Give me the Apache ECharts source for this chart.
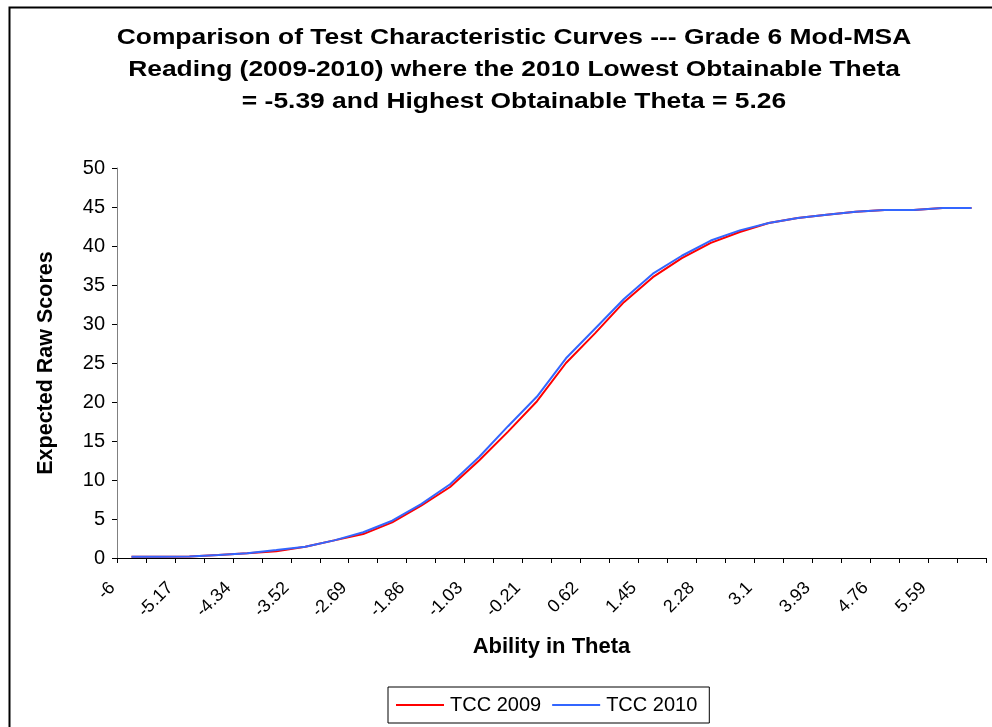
<!DOCTYPE html>
<html>
<head>
<meta charset="utf-8">
<script src="https://cdn.jsdelivr.net/npm/echarts@6/dist/echarts.min.js"></script>
<style>
html,body{margin:0;padding:0;background:#fff;}
#chart{width:992px;height:727px;}
</style>
</head>
<body>
<div id="chart"></div>
<script>
const thetaLabels = ["-6","-5.59","-5.17","-4.76","-4.34","-3.93","-3.52","-3.1","-2.69","-2.28","-1.86","-1.45","-1.03","-0.62","-0.21","0.21","0.62","1.03","1.45","1.86","2.28","2.69","3.1","3.52","3.93","4.34","4.76","5.17","5.59","6"];
const tcc2009 = [0.15,0.15,0.2,0.38,0.6,0.85,1.45,2.26,3.07,4.57,6.7,9.1,12.5,16.2,20.1,25.0,28.8,32.8,36.0,38.45,40.4,41.8,42.95,43.6,44.0,44.4,44.6,44.6,44.87,44.87];
const tcc2010 = [0.15,0.15,0.2,0.38,0.6,1.02,1.45,2.26,3.3,4.78,6.9,9.45,12.95,16.9,20.7,25.6,29.4,33.2,36.45,38.75,40.7,42.0,42.95,43.6,44.0,44.4,44.6,44.6,44.87,44.87];
const seriesNames = ["TCC 2009","TCC 2010"];
const titleText = "Comparison of Test Characteristic Curves --- Grade 6 Mod-MSA\nReading (2009-2010) where the 2010 Lowest Obtainable Theta\n= -5.39 and Highest Obtainable Theta = 5.26";

const FONT = "'Liberation Sans', Arial, sans-serif";
const chart = echarts.init(document.getElementById('chart'), null, {renderer:'canvas'});
chart.setOption({
  animation: false,
  backgroundColor: '#fff',
  textStyle: {fontFamily: FONT},
  graphic: [{
    type: 'rect', left: 7, top: 5, silent: true,
    shape: {width: 1000, height: 800},
    style: {fill: 'none', stroke: '#000', lineWidth: 2}
  }, {
    type: 'text', x: 514, y: 22, scaleX: 1.2, silent: true,
    style: {
      text: titleText,
      font: "bold 22px 'Liberation Sans', Arial, sans-serif",
      fill: '#000', align: 'center', verticalAlign: 'top', lineHeight: 32
    }
  }],
  legend: {
    data: seriesNames,
    left: 388, top: 687,
    padding: [8, 12, 8, 8],
    itemGap: 11,
    icon: 'rect',
    itemWidth: 48, itemHeight: 2,
    borderColor: '#000', borderWidth: 1,
    textStyle: {fontFamily: FONT, fontSize: 20, color: '#000', padding: [0, 0, 0, 1]}
  },
  grid: {left: 117, right: 6, top: 168, bottom: 169, containLabel: false},
  xAxis: {
    type: 'category',
    data: thetaLabels,
    boundaryGap: true,
    name: 'Ability in Theta',
    nameLocation: 'middle',
    nameGap: 78,
    nameTextStyle: {fontFamily: FONT, fontSize: 22, fontWeight: 'bold', color: '#000'},
    axisLine: {lineStyle: {color: '#000', width: 1}},
    axisTick: {show: true, interval: 0, length: 5, lineStyle: {color: '#000'}},
    axisLabel: {interval: 1, rotate: 45, fontSize: 18, color: '#000', fontFamily: FONT, margin: 8, padding: [0, 27, 0, 0]},
    splitLine: {show: false}
  },
  yAxis: {
    type: 'value',
    min: 0, max: 50, interval: 5,
    name: 'Expected Raw Scores',
    nameLocation: 'middle',
    nameGap: 60,
    nameRotate: 90,
    nameTextStyle: {fontFamily: FONT, fontSize: 21.5, fontWeight: 'bold', color: '#000'},
    axisLine: {show: true, lineStyle: {color: '#808080', width: 1}},
    axisTick: {show: true, length: 5, lineStyle: {color: '#000'}},
    axisLabel: {fontSize: 20, color: '#000', fontFamily: FONT, margin: 12},
    splitLine: {show: false}
  },
  series: [
    {name: seriesNames[0], type: 'line', data: tcc2009, symbol: 'none', lineStyle: {color: '#FF0000', width: 2}, itemStyle: {color: '#FF0000'}},
    {name: seriesNames[1], type: 'line', data: tcc2010, symbol: 'none', lineStyle: {color: '#3366FF', width: 2}, itemStyle: {color: '#3366FF'}}
  ]
});
</script>
</body>
</html>
